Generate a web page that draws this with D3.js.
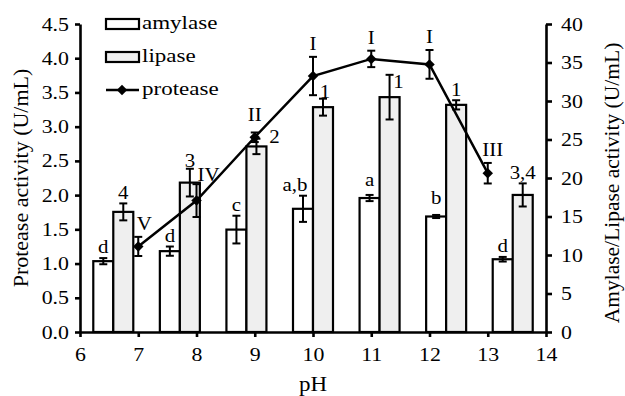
<!DOCTYPE html>
<html>
<head>
<script src="https://d3js.org/d3.v7.min.js"></script>
<style>
    body { margin: 0; background: #fff; }
    svg text { font-family: "Liberation Serif", "Times New Roman", serif; fill: #000; }
</style>
</head>
<body>
<div id="chart"></div>
<script>
    // data
    const phValues = [7, 8, 9, 10, 11, 12, 13];
    const amylase = [9.2, 10.5, 13.3, 16.0, 17.4, 15.0, 9.45];
    const amylaseErr = [0.4, 0.6, 1.8, 1.7, 0.4, 0.2, 0.3];
    const amylaseLabels = ["d", "d", "c", "a,b", "a", "b", "d"];
    const lipase = [15.6, 19.4, 24.1, 29.2, 30.5, 29.5, 17.8];
    const lipaseErr = [1.1, 1.8, 1.0, 1.1, 2.9, 0.6, 1.5];
    const lipaseLabels = ["4", "3", "2", "1", "1", "1", "3,4"];
    const protease = [1.25, 1.92, 2.845, 3.74, 3.99, 3.91, 2.32];
    const proteaseErr = [0.14, 0.24, 0.07, 0.28, 0.12, 0.21, 0.15];
    const proteaseLabels = ["V", "IV", "II", "I", "I", "I", "III"];
    const leftTicks = [0, 0.5, 1, 1.5, 2, 2.5, 3, 3.5, 4, 4.5];
    const rightTicks = [0, 5, 10, 15, 20, 25, 30, 35, 40];
    const xTicks = [6, 7, 8, 9, 10, 11, 12, 13, 14];

    const width = 625, height = 396;
    const margin = { top: 24, right: 79, bottom: 64, left: 80 };

    const svg = d3.select("#chart").append("svg")
        .attr("width", width)
        .attr("height", height);

    const x = d3.scaleLinear().domain([6, 14]).range([margin.left, width - margin.right]);
    const band = d3.scaleBand().domain(phValues).range([margin.left, width - margin.right]);
    const yL = d3.scaleLinear().domain([0, 4.5]).range([height - margin.bottom, margin.top]);
    const yR = d3.scaleLinear().domain([0, 40]).range([height - margin.bottom, margin.top]);
    const barW = 20;

    // small nudges for labels that would collide with marks
    const amyShift = { 3: [-8, 0], 4: [0, -4], 5: [0, -6] };
    const lipShift = { 1: [0, 2], 2: [18, 8], 3: [2, 3], 4: [9, 17] };
    const proShift = { 0: [6, 0], 1: [12, 4], 2: [0, -4], 6: [5, 0] };

    // the original figure's lettering is a bit wider than plain Times
    function stretch(sel, sx) {
        sel.each(function () {
            const t = d3.select(this);
            const tx = +t.attr("x") || 0, ty = +t.attr("y") || 0;
            t.attr("transform", "translate(" + tx + "," + ty + ") scale(" + sx + ",1)")
                .attr("x", 0).attr("y", 0);
        });
    }

    function errBar(g, cx, top, bot) {
        g.append("line").attr("x1", cx).attr("x2", cx).attr("y1", top).attr("y2", bot);
        g.append("line").attr("x1", cx - 4).attr("x2", cx + 4).attr("y1", top).attr("y2", top);
        g.append("line").attr("x1", cx - 4).attr("x2", cx + 4).attr("y1", bot).attr("y2", bot);
    }

    // bars
    const bars = svg.append("g");
    phValues.forEach((p, i) => {
        const c = band(p) + band.bandwidth() / 2;
        bars.append("rect")
            .attr("x", c - barW).attr("y", yR(amylase[i]))
            .attr("width", barW).attr("height", yR(0) - yR(amylase[i]))
            .attr("fill", "#fff").attr("stroke", "#000").attr("stroke-width", 2.2);
        bars.append("rect")
            .attr("x", c).attr("y", yR(lipase[i]))
            .attr("width", barW).attr("height", yR(0) - yR(lipase[i]))
            .attr("fill", "#efefef").attr("stroke", "#000").attr("stroke-width", 2.2);
    });

    const errs = svg.append("g").attr("stroke", "#000").attr("stroke-width", 2);
    phValues.forEach((p, i) => {
        const c = band(p) + band.bandwidth() / 2;
        errBar(errs, c - barW / 2, yR(amylase[i] + amylaseErr[i]), yR(amylase[i] - amylaseErr[i]));
        errBar(errs, c + barW / 2, yR(lipase[i] + lipaseErr[i]), yR(lipase[i] - lipaseErr[i]));
        errBar(errs, x(p), yL(protease[i] + proteaseErr[i]), yL(protease[i] - proteaseErr[i]));
    });

    // protease line
    svg.append("path")
        .datum(phValues.map((p, i) => [p, protease[i]]))
        .attr("fill", "none").attr("stroke", "#000").attr("stroke-width", 2.5)
        .attr("d", d3.line().x(d => x(d[0])).y(d => yL(d[1])));

    svg.append("g").selectAll("path")
        .data(phValues.map((p, i) => [p, protease[i]]))
        .join("path")
        .attr("transform", d => "translate(" + x(d[0]) + "," + yL(d[1]) + ")")
        .attr("d", d3.symbol(d3.symbolDiamond2, 70))
        .attr("fill", "#000");

    // significance labels
    const lbl = svg.append("g").attr("font-size", 19).attr("text-anchor", "middle");
    phValues.forEach((p, i) => {
        const c = band(p) + band.bandwidth() / 2;
        let s = amyShift[i] || [0, 0];
        lbl.append("text").attr("x", c - barW / 2 + s[0])
            .attr("y", yR(amylase[i] + amylaseErr[i]) - 5 + s[1]).text(amylaseLabels[i]);
        s = lipShift[i] || [0, 0];
        lbl.append("text").attr("x", c + barW / 2 + s[0])
            .attr("y", yR(lipase[i] + lipaseErr[i]) - 4 + s[1]).text(lipaseLabels[i]);
        s = proShift[i] || [0, 0];
        lbl.append("text").attr("x", x(p) + s[0])
            .attr("y", yL(protease[i] + proteaseErr[i]) - 7 + s[1]).text(proteaseLabels[i]);
    });
    lbl.selectAll("text").call(stretch, 1.1);

    // axes
    function styleAxis(g) {
        g.select(".domain").attr("stroke-width", 2.6);
        g.selectAll(".tick line").attr("stroke-width", 2.6);
        g.selectAll(".tick text").attr("font-size", 19)
            .style("font-family", "'Liberation Serif', 'Times New Roman', serif")
            .call(stretch, 1.15);
    }

    svg.append("g")
        .attr("transform", "translate(" + margin.left + ",0)")
        .call(d3.axisLeft(yL).tickValues(leftTicks).tickFormat(d3.format(".1f")).tickSize(5).tickSizeOuter(0).tickPadding(6))
        .call(styleAxis);

    svg.append("g")
        .attr("transform", "translate(" + (width - margin.right) + ",0)")
        .call(d3.axisRight(yR).tickValues(rightTicks).tickSize(6).tickSizeOuter(0).tickPadding(9))
        .call(styleAxis);

    svg.append("g")
        .attr("transform", "translate(0," + (height - margin.bottom) + ")")
        .call(d3.axisBottom(x).tickValues(xTicks).tickSize(5).tickSizeOuter(0).tickPadding(11))
        .call(styleAxis);

    // axis titles
    svg.append("text")
        .attr("transform", "translate(28,178) rotate(-90)")
        .attr("text-anchor", "middle").attr("font-size", 22)
        .text("Protease activity (U/mL)");

    svg.append("text")
        .attr("transform", "translate(619,183) rotate(-90)")
        .attr("text-anchor", "middle").attr("font-size", 21.5)
        .text("Amylase/Lipase activity (U/mL)");

    svg.append("text")
        .attr("x", (margin.left + width - margin.right) / 2).attr("y", 391)
        .attr("text-anchor", "middle").attr("font-size", 20)
        .text("pH")
        .call(stretch, 1.15);

    // legend
    const legend = svg.append("g").attr("font-size", 19.5);
    legend.append("rect").attr("x", 106).attr("y", 19).attr("width", 33).attr("height", 10)
        .attr("fill", "#fff").attr("stroke", "#000").attr("stroke-width", 2.2);
    legend.append("text").attr("x", 142).attr("y", 29).text("amylase");
    legend.append("rect").attr("x", 106).attr("y", 52).attr("width", 33).attr("height", 10)
        .attr("fill", "#efefef").attr("stroke", "#000").attr("stroke-width", 2.2);
    legend.append("text").attr("x", 142).attr("y", 62).text("lipase");
    legend.append("line").attr("x1", 106).attr("x2", 139).attr("y1", 90).attr("y2", 90)
        .attr("stroke", "#000").attr("stroke-width", 2.5);
    legend.append("path").attr("transform", "translate(122,90)")
        .attr("d", d3.symbol(d3.symbolDiamond2, 70)).attr("fill", "#000");
    legend.append("text").attr("x", 142).attr("y", 95).text("protease");
    legend.selectAll("text").call(stretch, 1.18);
</script>
</body>
</html>
